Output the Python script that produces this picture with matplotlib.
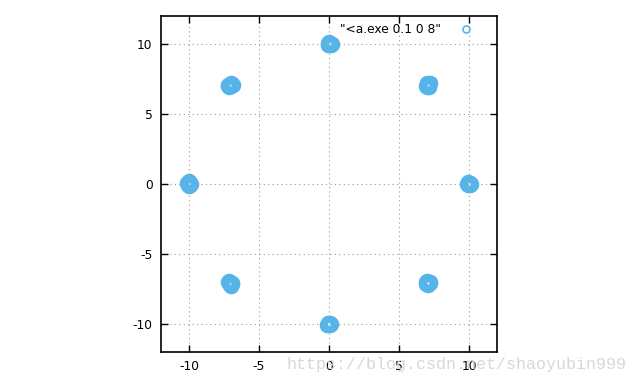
import numpy as np
import matplotlib.pyplot as plt

# 8-PSK 星座点 (加噪声后的采样点, 从图上估读)
xs = [10.02, 9.91, 10.10, 9.96, 10.05, 9.88, 10.12, 9.99,
      7.10, 6.98, 7.21, 7.02, 6.93, 7.15, 7.08, 7.00,
      0.05, -0.10, 0.12, 0.02, -0.06, 0.20, 0.08, -0.02,
      -7.05, -7.20, -6.92, -7.12, -6.98, -7.25, -7.02, -6.88,
      -9.98, -10.10, -9.88, -10.02, -9.95, -10.12, -10.00, -9.92,
      -7.08, -6.95, -7.20, -7.02, -7.12, -6.90, -7.05, -7.15,
      0.02, -0.12, 0.10, -0.05, 0.06, -0.02, 0.14, -0.08,
      7.05, 6.92, 7.18, 7.00, 7.10, 6.96, 7.22, 7.04]
ys = [0.02, -0.08, 0.06, 0.12, -0.05, 0.00, -0.02, 0.08,
      7.05, 6.95, 7.18, 7.22, 7.02, 6.92, 7.10, 7.00,
      10.02, 10.08, 9.95, 10.12, 9.90, 10.00, 9.98, 10.05,
      7.12, 7.02, 7.15, 6.95, 7.22, 7.05, 7.00, 7.08,
      0.05, -0.08, 0.02, 0.25, -0.05, 0.10, -0.12, 0.00,
      -7.05, -7.12, -7.00, -7.25, -6.95, -7.08, -7.18, -7.02,
      -10.02, -10.05, -9.95, -9.92, -10.10, -10.00, -10.03, -9.98,
      -7.05, -7.12, -7.00, -6.95, -7.20, -7.02, -7.08, -7.15]
ticks = [-10, -5, 0, 5, 10]
label = '"<a.exe 0.1 0 8"'

plt.rcParams['font.family'] = ['DejaVu Sans']
plt.rcParams['axes.unicode_minus'] = False
fig = plt.figure(figsize=(6.4, 3.84), dpi=100)
ax = fig.add_axes([161/640, 32/384, 336/640, 336/384])

ax.plot(xs, ys, 'o', mfc='none', mec='#56B4E9', mew=3.2, ms=8, label=label)

ax.set_xlim(-12, 12)
ax.set_ylim(-12, 12)
ax.set_xticks(ticks)
ax.set_yticks(ticks)
ax.tick_params(direction='in', length=5, width=1, top=True, right=True,
               labelsize=8.8, pad=6, colors='black')
ax.grid(True, linestyle=(0, (1, 3)), color='#999999', linewidth=0.8)
for s in ax.spines.values():
    s.set_linewidth(1.2)

leg = ax.legend(loc='upper right', frameon=False, markerfirst=False, fontsize=8.8,
                handlelength=1.2, handletextpad=1.4, borderaxespad=0.2,
                bbox_to_anchor=(0.95, 1.0))
for h in leg.legend_handles:
    h.set_markersize(5)
    h.set_markeredgewidth(1.2)

# 水印
fig.text(287/640, 1 - 365/384, 'https://blog.csdn.net/shaoyubin999',
         family='Liberation Mono', fontsize=12, color='#d8d8d8', va='center')

plt.savefig('out.png', dpi=100)
